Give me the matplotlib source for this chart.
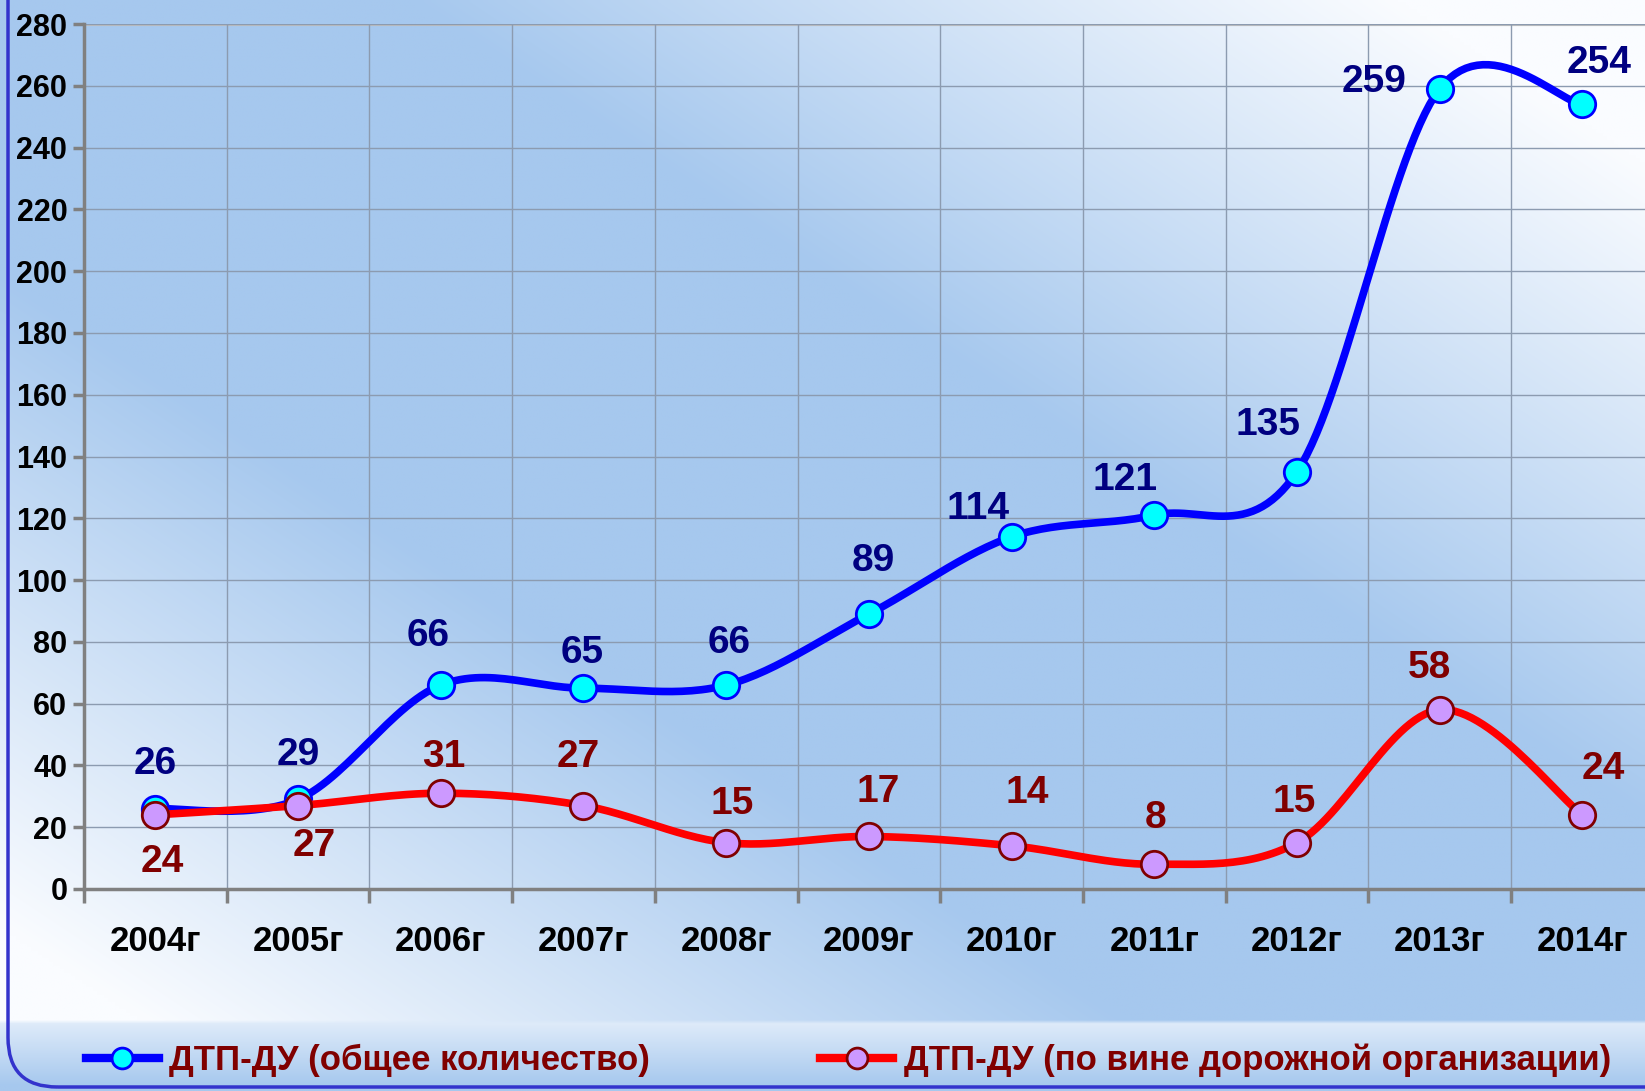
import numpy as np
import matplotlib.pyplot as plt
from matplotlib.lines import Line2D
from matplotlib.patches import FancyBboxPatch

plt.rcParams['font.family'] = ['Liberation Sans', 'DejaVu Sans']
plt.rcParams['font.weight'] = 'bold'

# --- data ---
years = ['2004г', '2005г', '2006г', '2007г', '2008г', '2009г',
         '2010г', '2011г', '2012г', '2013г', '2014г']
total = [26, 29, 66, 65, 66, 89, 114, 121, 135, 259, 254]
road_org = [24, 27, 31, 27, 15, 17, 14, 8, 15, 58, 24]
total_name = 'ДТП-ДУ (общее количество)'
road_name = 'ДТП-ДУ (по вине дорожной организации)'

# label offsets (points)
total_off = [(0, 32), (0, 32), (-9, 35), (-1, 25), (2, 30), (3, 38),
             (-24, 20), (-21, 25), (-21, 34), (-47, 5), (12, 30)]
road_off = [(5, -34), (12, -29), (2, 26), (-4, 35), (4, 28), (7, 32),
            (11, 38), (1, 33), (-2, 29), (-7, 30), (15, 33)]


def smooth(y, n=30):
    # excel-like bezier smoothing (catmull-rom control points)
    y = np.asarray(y, float)
    x = np.arange(len(y), dtype=float)
    px = np.concatenate([[x[0]], x, [x[-1]]])
    py = np.concatenate([[y[0]], y, [y[-1]]])
    xs, ys = [], []
    t = np.linspace(0, 1, n)
    for i in range(len(y) - 1):
        p0 = np.array([px[i], py[i]])
        p1 = np.array([px[i + 1], py[i + 1]])
        p2 = np.array([px[i + 2], py[i + 2]])
        p3 = np.array([px[i + 3], py[i + 3]])
        c1 = p1 + (p2 - p0) / 6
        c2 = p2 - (p3 - p1) / 6
        b = (np.outer((1 - t) ** 3, p1) + np.outer(3 * (1 - t) ** 2 * t, c1)
             + np.outer(3 * (1 - t) * t ** 2, c2) + np.outer(t ** 3, p2))
        xs.append(b[:, 0])
        ys.append(b[:, 1])
    return np.concatenate(xs), np.concatenate(ys)


W, H = 1645, 1091
fig = plt.figure(figsize=(W / 100, H / 100), dpi=100)

# background gradient
bg = fig.add_axes([0, 0, 1, 1], zorder=-2)
bg.axis('off')
yy, xx = np.mgrid[0:1:300j, 0:1:450j]
d = xx - yy
f = np.clip((np.abs(d) - 0.25) / 0.6, 0, 1)[..., None]
blue = np.array([166, 200, 238]) / 255
white = np.array([250, 252, 255]) / 255
img = blue * (1 - f) + white * f
# legend band at the bottom
band = yy > 1022 / H
g = np.clip((yy - 1022 / H) / (65 / H), 0, 1)[..., None]
g = 0.3 + 0.7 * g
bandcol = white * (1 - g) + blue * g
img = np.where(band[..., None], bandcol, img)
bg.imshow(img, extent=[0, 1, 0, 1], aspect='auto', interpolation='bilinear')
bg.set_xlim(0, 1)
bg.set_ylim(0, 1)

border = FancyBboxPatch((8 / W, 4 / H), 1.2, 1.2, boxstyle='round,pad=0,rounding_size=0.03',
                        transform=fig.transFigure, facecolor='none',
                        edgecolor='#3333cc', linewidth=2.5, mutation_aspect=W / H)
fig.patches.append(border)

ax = fig.add_axes([84 / W, 1 - 889 / H, 11 * 142.7 / W, (889 - 24) / H])
ax.set_facecolor('none')

x = np.arange(len(years))
sx, sy = smooth(total)
ax.plot(sx, sy, color='#0000ff', linewidth=5.5, zorder=3, solid_capstyle='round')
ax.plot(x, total, linestyle='none', marker='o', markersize=19,
        markerfacecolor='#00ffff', markeredgecolor='#0000ff', markeredgewidth=2, zorder=4)
rx, ry = smooth(road_org)
ax.plot(rx, ry, color='#ff0000', linewidth=5.5, zorder=5, solid_capstyle='round')
ax.plot(x, road_org, linestyle='none', marker='o', markersize=19,
        markerfacecolor='#cc99ff', markeredgecolor='#800000', markeredgewidth=2, zorder=6)

for i, v in enumerate(total):
    ax.annotate(str(v), (x[i], v), xytext=total_off[i], textcoords='offset points',
                ha='center', va='center', fontsize=28, fontweight='bold', color='#000080')
for i, v in enumerate(road_org):
    ax.annotate(str(v), (x[i], v), xytext=road_off[i], textcoords='offset points',
                ha='center', va='center', fontsize=28, fontweight='bold', color='#800000')

ax.set_xlim(-0.5, len(years) - 0.5)
ax.set_ylim(0, 280)
ax.set_yticks(np.arange(0, 281, 20))
ax.set_xticks(x)
ax.set_xticklabels(years)
ax.set_xticks(np.arange(-0.5, len(years), 1), minor=True)
ax.tick_params(axis='x', which='major', length=0, pad=26, labelsize=25)
ax.tick_params(axis='x', which='minor', length=10, width=2.5, color='#808080')
ax.tick_params(axis='y', length=8, width=2.5, color='#808080', labelsize=22, pad=4)
ax.grid(True, which='major', axis='y', color='#8c9bb0', linewidth=1)
ax.grid(True, which='minor', axis='x', color='#8c9bb0', linewidth=1)
for s in ['top', 'right']:
    ax.spines[s].set_visible(False)
ax.axhline(280, color='#c0c0c0', linewidth=3, zorder=1)
for s in ['left', 'bottom']:
    ax.spines[s].set_color('#808080')
    ax.spines[s].set_linewidth(2.5)

handles = [
    Line2D([], [], color='#0000ff', linewidth=6, marker='o', markersize=15,
           markerfacecolor='#00ffff', markeredgecolor='#0000ff', markeredgewidth=2),
    Line2D([], [], color='#ff0000', linewidth=6, marker='o', markersize=15,
           markerfacecolor='#cc99ff', markeredgecolor='#800000', markeredgewidth=2),
]
leg = fig.legend(handles, [total_name, road_name], loc='center left',
                 bbox_to_anchor=(86 / W, 1 - 1060 / H), ncol=2, frameon=False,
                 fontsize=25, handlelength=2.1, handletextpad=0.3, columnspacing=4.9,
                 borderaxespad=0, borderpad=0)
for t in leg.get_texts():
    t.set_color('#800000')
    t.set_fontweight('bold')

fig.savefig('out.png', dpi=100)
